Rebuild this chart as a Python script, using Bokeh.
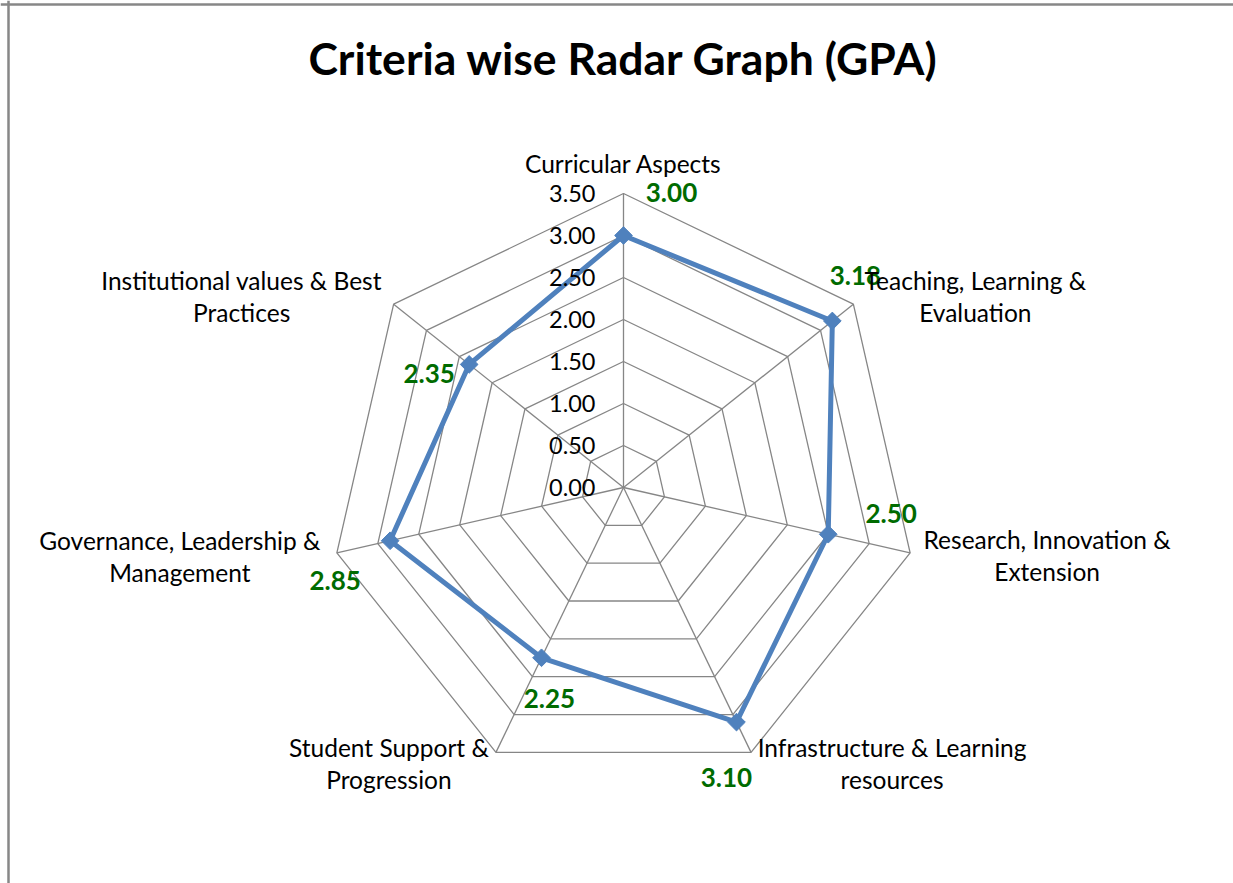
import numpy as np
from bokeh.plotting import figure
from bokeh.models import ColumnDataSource, Label, Span
from bokeh.core.properties import value
from bokeh.embed import file_html
from bokeh.resources import INLINE

# ---------------- data ----------------
categories = [
    "Curricular Aspects",
    "Teaching, Learning &\nEvaluation",
    "Research, Innovation &\nExtension",
    "Infrastructure & Learning\nresources",
    "Student Support &\nProgression",
    "Governance, Leadership &\nManagement",
    "Institutional values & Best\nPractices",
]
values = [3.00, 3.18, 2.50, 3.10, 2.25, 2.85, 2.35]
value_labels = ["3.00", "3.18", "2.50", "3.10", "2.25", "2.85", "2.35"]
ticks = [0.0, 0.5, 1.0, 1.5, 2.0, 2.5, 3.0, 3.5]
tick_labels = ["0.00", "0.50", "1.00", "1.50", "2.00", "2.50", "3.00", "3.50"]
title_text = "Criteria wise Radar Graph (GPA)"

# ---------------- layout ----------------
W, H = 1233, 883
PX = 84.0          # pixels per GPA unit
CX, CY = 623, 487  # centre of radar on canvas (pixels from top-left)
FONT = "Lato"
GRID = "#868686"
SERIES = "#4F81BD"
GREEN = "#006B00"

# pixel offsets (screen, y down) for labels
val_off = [(48, -43), (23, -45), (63, -21), (-10, 55), (8, 41), (-55, 40), (-40, 9)]
cat_off = [(0, -30), (122, -8), (137, 3), (141, 11), (-107, 11), (-157, 4), (-152, -8)]

n = len(categories)
ang = np.arange(n) * 2 * np.pi / n
sx, sy = np.sin(ang), np.cos(ang)
rmax = ticks[-1]

p = figure(width=W, height=H, output_backend="svg", toolbar_location=None,
           x_range=(-CX / PX, (W - CX) / PX), y_range=(-(H - CY) / PX, CY / PX),
           min_border=0, min_border_left=0, min_border_right=0,
           min_border_top=0, min_border_bottom=0)
p.axis.visible = False
p.grid.visible = False
p.outline_line_color = None
p.background_fill_color = "white"
p.border_fill_color = "white"

# rings
ring_xs = [list(t * sx) + [t * sx[0]] for t in ticks[1:]]
ring_ys = [list(t * sy) + [t * sy[0]] for t in ticks[1:]]
p.multi_line(ring_xs, ring_ys, line_color=GRID, line_width=1.3)
# spokes
p.multi_line([[0, rmax * a] for a in sx], [[0, rmax * b] for b in sy],
             line_color=GRID, line_width=1.3)

# series
v = np.array(values)
px_ = v * sx
py_ = v * sy
p.line(list(px_) + [px_[0]], list(py_) + [py_[0]], line_color=SERIES, line_width=5)
p.scatter(px_, py_, marker="square", angle=np.pi / 4, size=12.5,
          fill_color=SERIES, line_color=SERIES)

# tick labels
p.text(x=[-28 / PX] * len(ticks), y=ticks, text=tick_labels,
       text_font=value(FONT), text_font_size="23.5px", text_color="black",
       text_align="right", text_baseline="middle")

# value labels
vl = ColumnDataSource(dict(
    x=[px_[i] + val_off[i][0] / PX for i in range(n)],
    y=[py_[i] - val_off[i][1] / PX for i in range(n)],
    t=value_labels))
p.text(x="x", y="y", text="t", source=vl, text_font=value(FONT),
       text_font_size="26px", text_font_style="bold", text_color=GREEN,
       text_align="center", text_baseline="middle")

# category labels
cl = ColumnDataSource(dict(
    x=[rmax * sx[i] + cat_off[i][0] / PX for i in range(n)],
    y=[rmax * sy[i] - cat_off[i][1] / PX for i in range(n)],
    t=categories))
p.text(x="x", y="y", text="t", source=cl, text_font=value(FONT),
       text_font_size="24.5px", text_color="black", text_align="center",
       text_baseline="middle", text_line_height=1.1)

# title
p.add_layout(Label(x=CX, y=H - 57, x_units="screen", y_units="screen",
                   text=title_text, text_font=FONT, text_font_size="44.5px",
                   text_font_style="bold", text_color="black",
                   text_align="center", text_baseline="middle"))

# chart border (left and top visible)
p.add_layout(Span(location=(8 - CX) / PX, dimension="height",
                  line_color="#878787", line_width=2.5))
p.add_layout(Span(location=(CY - 4) / PX, dimension="width",
                  line_color="#878787", line_width=2.5))

open("out.html", "w").write(file_html(p, INLINE))
